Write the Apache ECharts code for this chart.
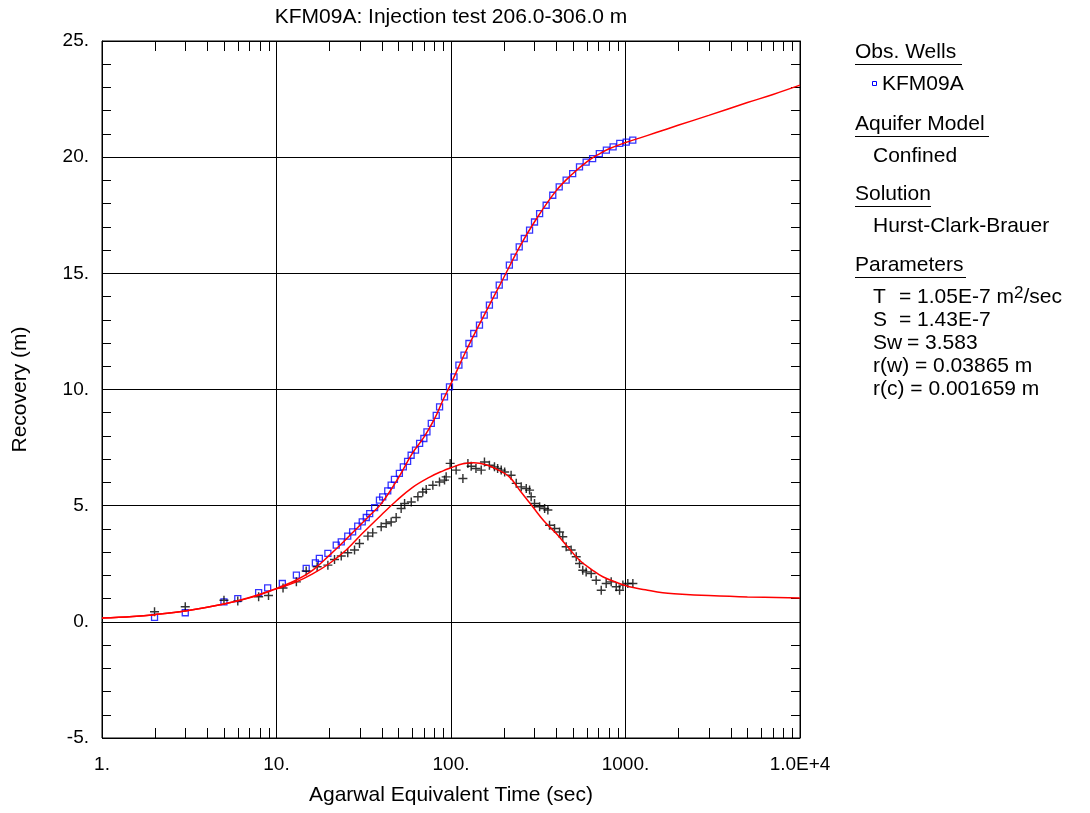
<!DOCTYPE html>
<html><head><meta charset="utf-8">
<script src="https://cdn.jsdelivr.net/npm/echarts@6/dist/echarts.min.js"></script>
<style>html,body{margin:0;padding:0;background:#fff}#c{width:1090px;height:813px}</style>
</head><body><div id="c"></div>
<script>
const titleText = 'KFM09A: Injection test 206.0-306.0 m';
const xAxisName = 'Agarwal Equivalent Time (sec)';
const yAxisName = 'Recovery (m)';
const xTickValues = [1, 10, 100, 1000, 10000];
const xTickLabels = ['1.', '10.', '100.', '1000.', '1.0E+4'];
const xMinorTicks = [2,3,4,5,6,7,8,9,20,30,40,50,60,70,80,90,200,300,400,500,600,700,800,900,2000,3000,4000,5000,6000,7000,8000,9000];
const Y_MIN = -5, Y_MAX = 25, Y_STEP = 5;

// Observed recovery (blue squares)
const recTime = [2,3,5,6,7.9,8.9,10.8,13,14.8,16.7,17.6,19.7,22,23.5,25.6,27.3,29.2,31,32.7,34.2,36.5,38.9,40.6,43.4,45.4,47.4,50.6,53.3,56.4,59.1,62.6,66.1,69.9,72.8,77.1,82.3,86,91.8,98,104,111,118.7,126.7,135,145.6,155,166,177,189,202,216,230,246,263,282,301,322,351,383,417,457,498,545,595,648,708,777,849,927,1010,1101];
const recValue = [0.19,0.39,0.86,1.0,1.26,1.46,1.65,2.01,2.30,2.54,2.73,2.95,3.30,3.44,3.69,3.87,4.12,4.30,4.49,4.66,4.92,5.24,5.38,5.64,5.88,6.13,6.39,6.67,6.91,7.17,7.39,7.68,7.89,8.18,8.54,8.89,9.25,9.68,10.11,10.54,11.05,11.48,11.98,12.41,12.77,13.20,13.63,14.06,14.49,14.85,15.35,15.70,16.14,16.50,16.86,17.21,17.57,17.93,18.36,18.72,19.01,19.29,19.58,19.79,19.94,20.15,20.30,20.44,20.59,20.65,20.73];

// Observed derivative (black crosses)
const derTime = [2,3,5,6,7.9,9,10.9,13,14.8,17.1,19.7,21.5,23.5,25.6,28,29.9,33.4,35.6,39.8,42.5,45.4,48.5,51.8,54.2,59.2,64.6,68.9,72.1,78.7,85.9,91.8,93.8,98.9,107,117,125,130.5,139,149,155.5,166,177.5,185,194,203,221,236.5,252.5,270,282,288,301,322,344,359,367,392,419,437,457,488,522,545,569,595,636,679,726,775,828,885,925,966,1031,1102];
const derValue = [0.43,0.65,0.93,0.90,1.08,1.13,1.46,1.72,2.19,2.37,2.44,2.68,2.83,2.97,3.09,3.37,3.69,3.83,4.09,4.23,4.30,4.49,4.88,5.09,5.16,5.38,5.59,5.70,5.88,6.02,6.10,6.24,6.82,6.53,6.17,6.82,6.70,6.60,6.53,6.88,6.74,6.67,6.60,6.53,6.45,6.31,5.96,5.81,5.74,5.67,5.38,5.09,4.95,4.88,4.81,4.16,4.02,3.87,3.66,3.23,3.09,2.80,2.51,2.22,2.15,2.08,1.79,1.36,1.65,1.72,1.51,1.36,1.58,1.65,1.65];

// Fitted curves (red)
const fitTime = [1,1.5,2,3,5,7,10,13,16,20,25,30,35,40,50,60,70,80,90,100,120,150,200,250,300,400,500,600,700,800,1000,1200,1500,2000,3000,5000,7000,10000];
const fitRecovery = [0.16,0.23,0.31,0.47,0.77,1.05,1.44,1.80,2.20,2.85,3.55,4.15,4.65,5.10,6.20,7.25,7.95,8.70,9.55,10.25,11.55,13.00,14.80,16.20,17.20,18.55,19.30,19.80,20.12,20.35,20.63,20.82,21.06,21.37,21.80,22.35,22.70,23.10];
const fitDerTime = [1,1.5,2,3,5,7,10,13,16,20,25,31,40,48.5,60,75,90,100,117,135,159,185,216,250,294,340,401,470,545,640,741,900,1055,1300,1636,2000,3000,5000,10000];
const fitDerivative = [0.16,0.23,0.31,0.47,0.77,1.03,1.42,1.72,2.05,2.50,3.08,3.80,4.61,5.20,5.78,6.22,6.50,6.63,6.80,6.85,6.76,6.55,6.24,5.62,4.95,4.35,3.80,3.20,2.65,2.25,1.94,1.68,1.51,1.38,1.25,1.20,1.13,1.07,1.03];

const FONT = 'Liberation Sans, Arial, sans-serif';
const zip = (a, b) => a.map((v, i) => [v, b[i]]);

const chart = echarts.init(document.getElementById('c'), null, {renderer: 'canvas'});

const legendX = 855, indentX = 873, eqX = 899;
function txt(x, y, s, extra) {
  return Object.assign({type: 'text', x: x, y: y, style: Object.assign({text: s, fill: '#000', font: '21px ' + FONT, textVerticalAlign: 'middle'}, extra || {})});
}
function uline(x1, x2, y) {
  return {type: 'line', shape: {x1: x1, y1: y, x2: x2, y2: y}, style: {stroke: '#000', lineWidth: 1}};
}

const graphics = [
  txt(legendX, 52, 'Obs. Wells'), uline(legendX, 962, 64.5),
  {type: 'rect', shape: {x: 872.5, y: 81.5, width: 4, height: 4}, style: {fill: 'none', stroke: '#0000ff', lineWidth: 1}},
  txt(882, 84, 'KFM09A'),
  txt(legendX, 124, 'Aquifer Model'), uline(legendX, 989, 136.5),
  txt(indentX, 156, 'Confined'),
  txt(legendX, 194, 'Solution'), uline(legendX, 931, 206.5),
  txt(indentX, 226, 'Hurst-Clark-Brauer'),
  txt(legendX, 265, 'Parameters'), uline(legendX, 966, 277.5),
  txt(indentX, 297, 'T'),
  {type: 'text', x: eqX, y: 297, style: {text: '= 1.05E-7 m{sup|2}/sec', fill: '#000', font: '21px ' + FONT, textVerticalAlign: 'middle',
     rich: {sup: {fontSize: 17, fontFamily: FONT, verticalAlign: 'top', padding: [0, 0, 8, 0]}}}},
  txt(indentX, 320, 'S'), txt(eqX, 320, '= 1.43E-7'),
  txt(indentX, 343, 'Sw'), txt(907, 343, '= 3.583'),
  txt(indentX, 366, 'r(w) = 0.03865 m'),
  txt(indentX, 389, 'r(c) = 0.001659 m')
];

const option = {
  backgroundColor: '#fff',
  animation: false,
  title: {text: titleText, left: 446, top: 2, textAlign: 'center',
          textStyle: {fontFamily: FONT, fontSize: 21, fontWeight: 'normal', color: '#000'}},
  grid: {left: 102, top: 41, right: 290, bottom: 75, show: true, borderColor: '#000', borderWidth: 1, backgroundColor: 'transparent'},
  xAxis: [{
    type: 'log', logBase: 10, min: 1, max: 10000,
    name: xAxisName, nameLocation: 'middle', nameGap: 47,
    nameTextStyle: {fontFamily: FONT, fontSize: 21, color: '#000'},
    axisLine: {show: true, lineStyle: {color: '#000'}},
    axisTick: {show: false},
    axisLabel: {fontFamily: FONT, fontSize: 19, color: '#000', margin: 17,
      formatter: v => { const i = xTickValues.findIndex(t => Math.abs(t - v) / t < 1e-6); return i >= 0 ? xTickLabels[i] : ''; }},
    splitLine: {show: true, lineStyle: {color: '#000', width: 1}}
  }],
  yAxis: [{
    type: 'value', min: Y_MIN, max: Y_MAX, interval: Y_STEP,
    name: yAxisName, nameLocation: 'middle', nameGap: 71, nameRotate: 90,
    nameTextStyle: {fontFamily: FONT, fontSize: 21, color: '#000'},
    axisLine: {show: true, lineStyle: {color: '#000'}},
    axisTick: {show: true, inside: true, length: 9, lineStyle: {color: '#000'}},
    minorTick: {show: true, splitNumber: 5, length: 9, lineStyle: {color: '#000'}},
    axisLabel: {fontFamily: FONT, fontSize: 19, color: '#000', margin: 13, formatter: v => v + '.'},
    splitLine: {show: true, lineStyle: {color: '#000', width: 1}}
  }, {
    type: 'value', min: Y_MIN, max: Y_MAX, interval: Y_STEP, position: 'right',
    axisLine: {show: true, lineStyle: {color: '#000'}},
    axisTick: {show: true, inside: true, length: 9, lineStyle: {color: '#000'}},
    minorTick: {show: true, splitNumber: 5, length: 9, lineStyle: {color: '#000'}},
    axisLabel: {show: false}, splitLine: {show: false}
  }],
  graphic: graphics,
  series: [
    {
      type: 'custom', coordinateSystem: 'cartesian2d', silent: true, z: 5,
      data: xMinorTicks.map(t => [t, Y_MIN]),
      renderItem: function (params, api) {
        const t = api.value(0);
        const b = api.coord([t, Y_MIN]);
        const tp = api.coord([t, Y_MAX]);
        const x = Math.round(b[0]) + 0.5;
        return {type: 'group', children: [
          {type: 'line', shape: {x1: x, y1: b[1], x2: x, y2: b[1] - 10}, style: {stroke: '#000', lineWidth: 1}},
          {type: 'line', shape: {x1: x, y1: tp[1], x2: x, y2: tp[1] + 10}, style: {stroke: '#000', lineWidth: 1}}
        ]};
      }
    },
    {
      name: 'KFM09A', type: 'scatter', data: zip(recTime, recValue), z: 3,
      symbol: 'rect', symbolSize: 6,
      itemStyle: {color: 'rgba(0,0,0,0)', borderColor: '#0000ff', borderWidth: 1.3}
    },
    {
      name: 'Derivative', type: 'scatter', data: zip(derTime, derValue), z: 3,
      symbol: 'path://M0,4.2 H10 V5.8 H0 Z M4.2,0 H5.8 V10 H4.2 Z', symbolSize: 9,
      itemStyle: {color: '#000'}
    },
    {
      name: 'Recovery fit', type: 'line', data: zip(fitTime, fitRecovery), z: 4,
      showSymbol: false, smooth: 0.4, lineStyle: {color: '#ff0000', width: 1.5}
    },
    {
      name: 'Derivative fit', type: 'line', data: zip(fitDerTime, fitDerivative), z: 4,
      showSymbol: false, smooth: 0.4, lineStyle: {color: '#ff0000', width: 1.5}
    }
  ]
};
chart.setOption(option);
</script>
</body></html>
